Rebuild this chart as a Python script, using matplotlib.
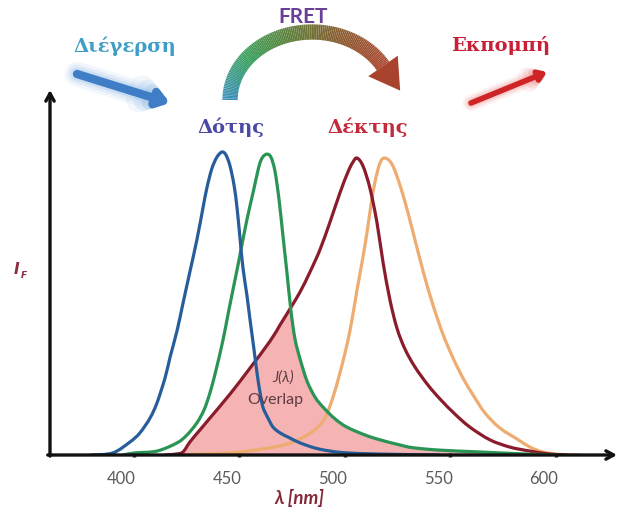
import numpy as np
import matplotlib
matplotlib.use("Agg")
import matplotlib.pyplot as plt
from matplotlib.collections import LineCollection
from matplotlib.colors import LinearSegmentedColormap
from matplotlib.patches import Polygon, FancyArrowPatch, PathPatch
from matplotlib.path import Path

# ---- spectra: wavelength (nm) and relative intensity ----
donor_abs_nm = [380, 390.2, 398.3, 403.0, 407.8, 411.1, 414.9, 417.3, 420.6, 423.4, 426.7,
                430.0, 432.8, 434.7, 437.1, 439.5, 441.9, 443.8, 445.7, 447.6, 449.0,
                450.4, 451.8, 453.7, 455.2, 457.1, 458.5, 459.9, 461.3, 463.7, 466.1,
                469.4, 474.1, 478.9, 486.0, 493.1, 501.1, 516.7, 545]
donor_abs_int = [0.0, 0.007, 0.043, 0.073, 0.122, 0.172, 0.254, 0.323, 0.410, 0.500, 0.605,
                 0.710, 0.812, 0.880, 0.945, 0.983, 1.000, 0.990, 0.954, 0.891, 0.818,
                 0.719, 0.620, 0.528, 0.446, 0.347, 0.271, 0.208, 0.158, 0.122, 0.092,
                 0.073, 0.056, 0.040, 0.023, 0.013, 0.007, 0.003, 0.0]

donor_em_nm = [395, 400.7, 411.1, 420.6, 425.3, 430.0, 433.4, 436.2, 439.1, 442.4, 444.7,
               447.1, 449.5, 451.8, 454.2, 456.6, 458.5, 459.9, 461.3, 463.2, 465.1,
               467.0, 468.9, 470.8, 472.7, 474.6, 476.5, 478.9, 482.2, 486.0, 489.8,
               495.5, 501.1, 509.7, 516.8, 526.3, 532.4, 545.2, 564.2, 583.2, 600]
donor_em_int = [0.0, 0.007, 0.013, 0.040, 0.066, 0.106, 0.149, 0.205, 0.281, 0.380, 0.462,
                0.545, 0.627, 0.710, 0.792, 0.865, 0.925, 0.964, 0.984, 0.993, 0.983,
                0.937, 0.845, 0.723, 0.601, 0.475, 0.383, 0.317, 0.244, 0.191, 0.158,
                0.119, 0.092, 0.066, 0.050, 0.033, 0.024, 0.016, 0.010, 0.004, 0.0]

acceptor_abs_nm = [415, 420, 423.4, 426.7, 431.5, 436.2, 445.7, 455.2, 464.7, 469.4, 474.1,
                   478.9, 483.6, 488.3, 493.1, 497.8, 501.6, 504.0, 505.9, 508.7, 512.0,
                   515.3, 518.2, 521.5, 524.8, 528.6, 533.4, 539.5, 545.2, 552.3, 559.4,
                   568.9, 578.4, 587.8, 597.3, 605]
acceptor_abs_int = [0.0, 0.003, 0.010, 0.043, 0.083, 0.122, 0.201, 0.287, 0.376, 0.429,
                    0.482, 0.538, 0.604, 0.677, 0.769, 0.865, 0.934, 0.967, 0.980, 0.954,
                    0.881, 0.769, 0.637, 0.512, 0.419, 0.350, 0.290, 0.231, 0.185, 0.135,
                    0.092, 0.050, 0.026, 0.013, 0.003, 0.0]

acceptor_em_nm = [420, 431.5, 450.4, 469.4, 478.9, 485.9, 490.7, 494.5, 497.8, 501.1, 503.5,
                  505.9, 508.3, 510.6, 512.5, 514.4, 516.8, 519.2, 522.9, 527.7, 532.4,
                  537.2, 541.9, 546.6, 551.4, 556.1, 560.9, 566.5, 573.6, 581.7, 587.9,
                  594.0, 602, 612]
acceptor_em_int = [0.0, 0.003, 0.010, 0.030, 0.053, 0.083, 0.122, 0.191, 0.271, 0.363,
                   0.446, 0.545, 0.637, 0.733, 0.825, 0.901, 0.964, 0.980, 0.954, 0.858,
                   0.736, 0.607, 0.495, 0.399, 0.320, 0.254, 0.198, 0.139, 0.089, 0.053,
                   0.026, 0.010, 0.002, 0.0]

tick_values = [400, 450, 500, 550, 600]
tick_labels = ["400", "450", "500", "550", "600"]

# ---- figure ----
W, H = 618, 509
fig = plt.figure(figsize=(W / 100, H / 100), dpi=100)
fig.patch.set_facecolor("white")

ax = fig.add_axes([50 / W, 54 / H, 567 / W, 365 / H])
ax.set_xlim(360.4, 629.1)
ax.set_ylim(0, 1.2046)
ax.patch.set_alpha(0)
for s in ax.spines.values():
    s.set_visible(False)


def smooth_curve(x, y, **kw):
    """Draw a line through (x, y) as a chain of cubic Bezier pieces."""
    p = np.column_stack([x, y]).astype(float)
    ext = np.vstack([p[0], p, p[-1]])
    verts = [tuple(p[0])]
    codes = [Path.MOVETO]
    for i in range(1, len(ext) - 2):
        c1 = ext[i] + (ext[i + 1] - ext[i - 1]) / 6.0
        c2 = ext[i + 1] - (ext[i + 2] - ext[i]) / 6.0
        verts += [tuple(c1), tuple(c2), tuple(ext[i + 1])]
        codes += [Path.CURVE4] * 3
    patch = PathPatch(Path(verts, codes), fill=False, capstyle="round",
                      joinstyle="round", **kw)
    ax.add_patch(patch)
    return patch


# spectral overlap J(lambda): region under both donor emission and acceptor absorption
grid = np.linspace(415, 565, 800)
ov = np.minimum(np.interp(grid, acceptor_abs_nm, acceptor_abs_int, left=0, right=0),
                np.interp(grid, donor_em_nm, donor_em_int, left=0, right=0))
ax.fill_between(grid, 0, ov, color="#f6b3b3", lw=0, zorder=1)

lw = 2.3
smooth_curve(acceptor_em_nm, acceptor_em_int, edgecolor="#eeac70", lw=lw, zorder=2)
smooth_curve(acceptor_abs_nm, acceptor_abs_int, edgecolor="#8a1c2c", lw=lw, zorder=3)
smooth_curve(donor_em_nm, donor_em_int, edgecolor="#2a9455", lw=lw, zorder=4)
smooth_curve(donor_abs_nm, donor_abs_int, edgecolor="#275d9b", lw=lw, zorder=5)

ax.text(471, 0.255, "J(λ)", fontsize=11, style="italic", color="#5e3c44",
        ha="center", va="center", family="Lato", zorder=6)
ax.text(467, 0.183, "Overlap", fontsize=11.5, color="#5e3c44",
        ha="center", va="center", family="Lato", zorder=6)

# axis lines with arrow heads
arrow_kw = dict(arrowstyle="->,head_length=0.55,head_width=0.3", lw=2.4,
                color="#111111", shrinkA=0, shrinkB=0)
ax.annotate("", xy=(1.0, 0), xytext=(-0.004, 0), xycoords="axes fraction",
            arrowprops=arrow_kw, zorder=7)
ax.annotate("", xy=(0, 1.0), xytext=(0, -0.003), xycoords="axes fraction",
            arrowprops=arrow_kw, zorder=7)

ax.set_xticks(tick_values)
ax.set_xticklabels([])
ax.tick_params(axis="x", length=3, width=2.5, direction="inout", colors="#222222")
ax.set_yticks([])
for v, s in zip(tick_values, tick_labels):
    ax.annotate(s, xy=(v, 0), xycoords=("data", "axes fraction"),
                xytext=(-12, -24), textcoords="offset pixels",
                ha="center", va="center", fontsize=12, color="#5c5c5c", family="Lato")

ax.set_xlabel("λ [nm]", fontsize=13.5, fontweight="bold", style="italic",
              color="#862a3a", family="Lato")
ax.xaxis.set_label_coords((299 - 50) / 567, (455 - 489) / 365)

# ---- decorations in pixel space ----
deco = fig.add_axes([0, 0, 1, 1])
deco.set_xlim(0, W)
deco.set_ylim(H, 0)
deco.axis("off")
deco.patch.set_alpha(0)

deco.text(14, 270, "I", fontsize=11, fontweight="bold", style="italic",
          color="#8a3040", ha="left", va="center", family="DejaVu Sans")
deco.text(21, 276, "F", fontsize=6.5, fontweight="bold", style="italic",
          color="#8a3040", ha="left", va="center", family="DejaVu Sans")

serif = "DejaVu Serif"
deco.text(125, 46, "Διέγερση", fontsize=14, fontweight="bold", color="#3f9ec6",
          ha="center", va="center", family=serif)
deco.text(501, 45, "Εκπομπή", fontsize=14, fontweight="bold", color="#c9203a",
          ha="center", va="center", family=serif)
deco.text(231, 127, "Δότης", fontsize=14, fontweight="bold", color="#4b49a6",
          ha="center", va="center", family=serif)
deco.text(368, 127, "Δέκτης", fontsize=14, fontweight="bold", color="#c52a3c",
          ha="center", va="center", family=serif)
deco.text(303, 17, "FRET", fontsize=15, fontweight="bold", color="#6a3f98",
          ha="center", va="center", family="Lato")


def glow_arrow(p0, p1, core, halo, width):
    for k, a in [(3.0, 0.10), (2.3, 0.16), (1.6, 0.25)]:
        deco.add_patch(FancyArrowPatch(
            p0, p1, arrowstyle="-|>,head_length=0.5,head_width=0.35",
            mutation_scale=width * 2.2, lw=width * k, color=halo, alpha=a,
            shrinkA=0, shrinkB=0, capstyle="round", joinstyle="round"))
    deco.add_patch(FancyArrowPatch(
        p0, p1, arrowstyle="-|>,head_length=0.5,head_width=0.35",
        mutation_scale=width * 2.2, lw=width, color=core,
        shrinkA=0, shrinkB=0, capstyle="round", joinstyle="round"))


glow_arrow((77, 74), (170, 103), "#3f7ec6", "#8fb8e6", 6)
glow_arrow((471, 103), (547, 72), "#cf2426", "#f08c8c", 4)

# FRET arc with colour gradient
cx, cy, a_, b_ = 312, 100, 82, 68
t = np.linspace(np.pi, np.radians(30), 120)
xs = cx + a_ * np.cos(t)
ys = cy - b_ * np.sin(t)
pts = np.column_stack([xs, ys]).reshape(-1, 1, 2)
segs = np.concatenate([pts[:-1], pts[1:]], axis=1)
arc_cmap = LinearSegmentedColormap.from_list(
    "arc", ["#3a8fb8", "#37a05c", "#5e803a", "#8d5a30", "#a8462e"])
lc = LineCollection(segs, cmap=arc_cmap, linewidths=11, capstyle="butt")
lc.set_array(np.linspace(0, 1, len(segs)))
deco.add_collection(lc)

# arrow head at the end of the arc
tend = t[-1]
d = np.array([a_ * np.sin(tend), b_ * np.cos(tend)])
d = d / np.hypot(*d)
nrm = np.array([-d[1], d[0]])
base = np.array([xs[-1], ys[-1]])
tip = base + d * 30
head = Polygon([base + nrm * 18, tip, base - nrm * 18], closed=True,
               facecolor="#a8442e", edgecolor="none")
deco.add_patch(head)

fig.savefig("out.png", dpi=100)
